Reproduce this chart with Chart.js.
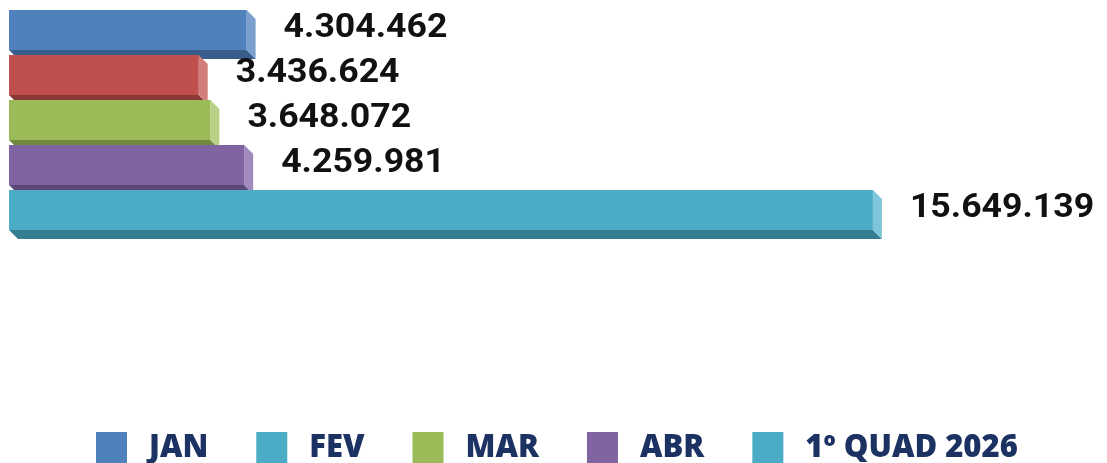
<!DOCTYPE html>
<html>
<head>
<meta charset="utf-8">
<script src="https://cdn.jsdelivr.net/npm/chart.js@4.4.1/dist/chart.umd.min.js"></script>
<style>
    html, body { margin: 0; padding: 0; background: #fff; }
    #wrap { width: 1107px; height: 463px; }
</style>
</head>
<body>
<div id="wrap"><canvas id="quadChart" width="1107" height="463"></canvas></div>
<script>
// Data
const categories = ['JAN', 'FEV', 'MAR', 'ABR', '1º QUAD 2026'];
const values = [4304462, 3436624, 3648072, 4259981, 15649139];

// Colours (front face, bottom face, side face, legend swatches)
const frontColors = ['#4F81BD', '#C0504D', '#9BBB59', '#8064A2', '#4BACC6'];
const bottomColors = ['#385D8A', '#8C3836', '#71893F', '#5C4776', '#357D91'];
const sideColors = ['#7BA0CF', '#D27E7B', '#B9D186', '#A18BBE', '#7DC6D9'];
const legendColors = ['#4F81BD', '#4BACC6', '#9BBB59', '#8064A2', '#4BACC6'];

const X_MAX = 19600000;
const DEPTH = 9;

/**
 * 15649139 -> "15.649.139"
 */
function formatNumber(v) {
    return String(v).replace(/\B(?=(\d{3})+(?!\d))/g, '.');
}

/**
 * Draws the bottom and right faces of each bar, under the front faces
 */
const bar3d = {
    id: 'bar3d',
    beforeDatasetsDraw(chart) {
        const ctx = chart.ctx;
        const meta = chart.getDatasetMeta(0);
        ctx.save();
        meta.data.forEach((bar, i) => {
            const top = bar.y - bar.height / 2;
            const bottom = bar.y + bar.height / 2;
            const left = bar.base;
            const right = bar.x;

            // bottom face
            ctx.fillStyle = bottomColors[i];
            ctx.beginPath();
            ctx.moveTo(left, bottom);
            ctx.lineTo(right, bottom);
            ctx.lineTo(right + DEPTH, bottom + DEPTH);
            ctx.lineTo(left + DEPTH, bottom + DEPTH);
            ctx.closePath();
            ctx.fill();

            // side face
            ctx.fillStyle = sideColors[i];
            ctx.beginPath();
            ctx.moveTo(right, top);
            ctx.lineTo(right + DEPTH, top + DEPTH);
            ctx.lineTo(right + DEPTH, bottom + DEPTH);
            ctx.lineTo(right, bottom);
            ctx.closePath();
            ctx.fill();
        });
        ctx.restore();
    },

    // Value labels to the right of each bar
    afterDatasetsDraw(chart) {
        const ctx = chart.ctx;
        const meta = chart.getDatasetMeta(0);
        ctx.save();
        ctx.fillStyle = '#111111';
        ctx.font = 'bold 33px Roboto, "Liberation Sans", sans-serif';
        ctx.textBaseline = 'alphabetic';
        ctx.textAlign = 'left';
        meta.data.forEach((bar, i) => {
            ctx.save();
            ctx.translate(bar.x + 37, bar.y + 7);
            ctx.scale(1.08, 1);
            ctx.fillText(formatNumber(values[i]), 0, 0);
            ctx.restore();
        });
        ctx.restore();
    },

    // Legend row at the bottom
    afterDraw(chart) {
        const ctx = chart.ctx;
        const box = 31;
        const textGap = 22;
        const itemGap = 48;
        ctx.save();
        ctx.font = '800 31px "Open Sans", sans-serif';
        ctx.textBaseline = 'alphabetic';
        ctx.textAlign = 'left';

        let x = 96;
        const boxTop = 432;

        categories.forEach((label, i) => {
            const w = ctx.measureText(label).width;
            ctx.fillStyle = legendColors[i];
            ctx.fillRect(x, boxTop, box, box);
            ctx.fillStyle = '#1C3263';
            ctx.fillText(label, x + box + textGap, 457);
            x += box + textGap + w + itemGap;
        });
        ctx.restore();
    }
};

function init() {
    const ctx = document.getElementById('quadChart').getContext('2d');
    new Chart(ctx, {
        type: 'bar',
        data: {
            labels: categories,
            datasets: [{
                data: values,
                backgroundColor: frontColors,
                borderWidth: 0,
                categoryPercentage: 1,
                barPercentage: 40 / 45
            }]
        },
        options: {
            indexAxis: 'y',
            responsive: false,
            animation: false,
            layout: {
                padding: { top: 7.5, bottom: 230.5, left: 9, right: 16 }
            },
            plugins: {
                legend: { display: false },
                tooltip: { enabled: false }
            },
            scales: {
                x: { display: false, min: 0, max: X_MAX },
                y: { display: false }
            }
        },
        plugins: [bar3d]
    });
}

Promise.all([
    document.fonts.load('bold 33px Roboto'),
    document.fonts.load('800 31px "Open Sans"')
]).then(init, init);
</script>
</body>
</html>
